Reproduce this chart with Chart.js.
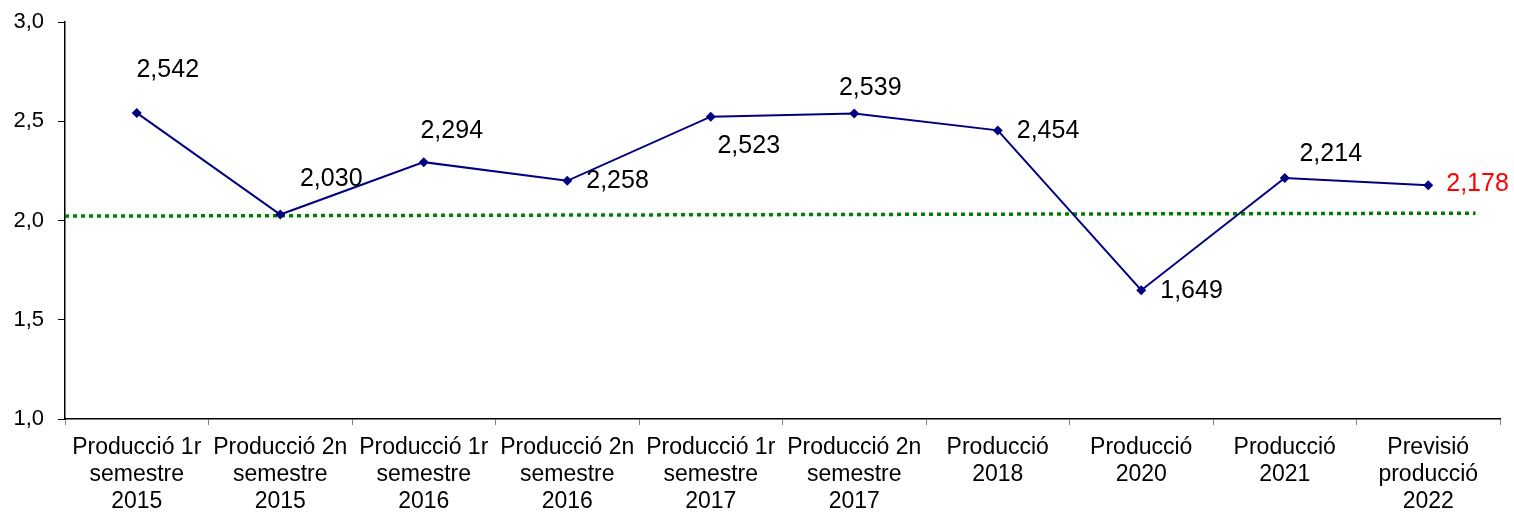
<!DOCTYPE html>
<html>
<head>
<meta charset="utf-8">
<script src="https://cdn.jsdelivr.net/npm/chart.js@4/dist/chart.umd.min.js"></script>
<style>
  html, body { margin: 0; padding: 0; background: #fff; }
  #wrap { width: 1514px; height: 512px; }
</style>
</head>
<body>
<div id="wrap"><canvas id="chart"></canvas></div>
<script>
// categories (multi-line)
const categories = [
  ['Producció 1r', 'semestre', '2015'],
  ['Producció 2n', 'semestre', '2015'],
  ['Producció 1r', 'semestre', '2016'],
  ['Producció 2n', 'semestre', '2016'],
  ['Producció 1r', 'semestre', '2017'],
  ['Producció 2n', 'semestre', '2017'],
  ['Producció', '2018'],
  ['Producció', '2020'],
  ['Producció', '2021'],
  ['Previsió', 'producció', '2022']
];

// plotted values (as drawn on the picture)
const values = [2.542, 2.030, 2.294, 2.200, 2.523, 2.539, 2.454, 1.649, 2.214, 2.178];
// data label texts
const valueLabels = ['2,542', '2,030', '2,294', '2,258', '2,523', '2,539', '2,454', '1,649', '2,214', '2,178'];

// green dotted reference line (start / end)
const refLine = [2.022, 2.037];

// y axis ticks
const yMin = 1.0;
const yMax = 3.0;
const yStep = 0.5;

const FONT = '"Liberation Sans", Arial, sans-serif';

// label placement per point: [dx, dy, align]
const labelPlace = [
  [31, -43, 'center'],
  [51, -35, 'center'],
  [28, -31, 'center'],
  [19, 0, 'left'],
  [38, 29, 'center'],
  [16, -25, 'center'],
  [19, 1, 'left'],
  [19, 1, 'left'],
  [46, -24, 'center'],
  [18, -1, 'left']
];

const dataLabels = {
  id: 'dataLabels',
  afterDatasetsDraw(chart) {
    const ctx = chart.ctx;
    const meta = chart.getDatasetMeta(0);
    ctx.save();
    ctx.font = '25px ' + FONT;
    ctx.textBaseline = 'middle';
    meta.data.forEach((pt, i) => {
      const p = labelPlace[i];
      ctx.textAlign = p[2];
      ctx.fillStyle = i === values.length - 1 ? '#ff0000' : '#000000';
      ctx.fillText(valueLabels[i], pt.x + p[0], pt.y + p[1]);
    });
    ctx.restore();
  }
};

new Chart(document.getElementById('chart'), {
  type: 'line',
  data: {
    labels: categories,
    datasets: [{
      data: values,
      borderColor: '#000080',
      backgroundColor: '#000080',
      borderWidth: 2,
      pointStyle: 'rectRot',
      pointRadius: 5,
      pointBorderWidth: 0,
      tension: 0,
      order: 1
    }, {
      data: [{ x: 0, y: refLine[0] }, { x: 0.983, y: refLine[1] }],
      xAxisID: 'x2',
      borderColor: '#008000',
      borderWidth: 3.5,
      borderDash: [4, 4],
      pointRadius: 0,
      order: 2
    }]
  },
  options: {
    responsive: true,
    maintainAspectRatio: false,
    animation: false,
    layout: { padding: { left: 0, top: 22, right: 14, bottom: 0 } },
    plugins: { legend: { display: false }, tooltip: { enabled: false } },
    scales: {
      x: {
        type: 'category',
        offset: true,
        grid: { offset: true, drawOnChartArea: false, color: '#808080', tickLength: 6 },
        border: { color: '#000', width: 1.5 },
        ticks: {
          color: '#000',
          font: { family: FONT, size: 23, lineHeight: '27px' },
          maxRotation: 0,
          autoSkip: false,
          padding: 9
        },
        afterFit(scale) { scale.height = 93; }
      },
      x2: {
        type: 'linear',
        display: false,
        min: 0,
        max: 1
      },
      y: {
        min: yMin,
        max: yMax,
        grid: { drawOnChartArea: false, color: '#000', tickLength: 7 },
        border: { color: '#000', width: 1.5 },
        ticks: {
          stepSize: yStep,
          color: '#000',
          padding: 14,
          font: { family: FONT, size: 22 },
          callback: v => v.toFixed(1).replace('.', ',')
        },
        afterFit(scale) {
          scale.width = 65;
          scale.paddingTop = 0;
          scale.paddingBottom = 0;
        }
      }
    }
  },
  plugins: [dataLabels]
});
</script>
</body>
</html>
